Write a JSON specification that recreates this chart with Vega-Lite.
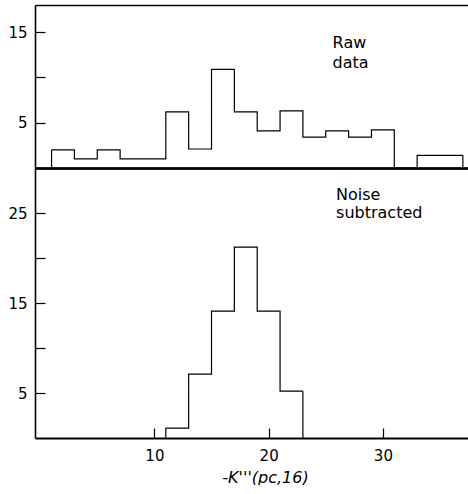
{
  "$schema": "https://vega.github.io/schema/vega-lite/v6.json",
  "background": "white",
  "padding": {"left": 5, "top": 5, "right": 0, "bottom": 0},
  "spacing": 0,
  "bounds": "flush",
  "config": {
    "view": {"stroke": null},
    "axis": {
      "domainColor": "black", "tickColor": "black", "labelColor": "black", "titleColor": "black",
      "labelFont": "DejaVu Sans", "titleFont": "DejaVu Sans", "labelFontSize": 15,
      "grid": false, "domainWidth": 1.6, "tickWidth": 1.2
    },
    "text": {"font": "DejaVu Sans"}
  },
  "datasets": {
    "raw": [
      {"i": 0, "x0": 1, "x1": 3, "count": 2.0},
      {"i": 1, "x0": 3, "x1": 5, "count": 1.0},
      {"i": 2, "x0": 5, "x1": 7, "count": 2.0},
      {"i": 3, "x0": 7, "x1": 9, "count": 1.0},
      {"i": 4, "x0": 9, "x1": 11, "count": 1.0},
      {"i": 5, "x0": 11, "x1": 13, "count": 6.2},
      {"i": 6, "x0": 13, "x1": 15, "count": 2.1},
      {"i": 7, "x0": 15, "x1": 17, "count": 10.9},
      {"i": 8, "x0": 17, "x1": 19, "count": 6.2},
      {"i": 9, "x0": 19, "x1": 21, "count": 4.1},
      {"i": 10, "x0": 21, "x1": 23, "count": 6.3},
      {"i": 11, "x0": 23, "x1": 25, "count": 3.4},
      {"i": 12, "x0": 25, "x1": 27, "count": 4.1},
      {"i": 13, "x0": 27, "x1": 29, "count": 3.4},
      {"i": 14, "x0": 29, "x1": 31, "count": 4.2},
      {"i": 15, "x0": 31, "x1": 33, "count": 0},
      {"i": 16, "x0": 33, "x1": 35, "count": 1.4},
      {"i": 17, "x0": 35, "x1": 37, "count": 1.4}
    ],
    "noise": [
      {"i": 0, "x0": 11, "x1": 13, "count": 1.1},
      {"i": 1, "x0": 13, "x1": 15, "count": 7.1},
      {"i": 2, "x0": 15, "x1": 17, "count": 14.1},
      {"i": 3, "x0": 17, "x1": 19, "count": 21.2},
      {"i": 4, "x0": 19, "x1": 21, "count": 14.1},
      {"i": 5, "x0": 21, "x1": 23, "count": 5.2}
    ]
  },
  "vconcat": [
    {
      "width": 433,
      "height": 163,
      "data": {"name": "raw"},
      "layer": [
        {
          "transform": [{"fold": ["x0", "x1"], "as": ["edge", "xv"]}],
          "mark": {"type": "line", "color": "black", "strokeWidth": 1.2},
          "encoding": {
            "x": {"field": "xv", "type": "quantitative",
                  "scale": {"domain": [-0.45, 37.45], "nice": false, "zero": false},
                  "axis": {"orient": "bottom", "ticks": false, "labels": false, "title": null, "domainWidth": 2}},
            "y": {"field": "count", "type": "quantitative",
                  "scale": {"domain": [0, 18], "nice": false},
                  "axis": {"orient": "left", "values": [5, 10, 15], "tickSize": -10, "labelPadding": 18,
                           "labelExpr": "datum.value % 10 == 5 ? datum.label : ''", "title": null,
                           "minExtent": 30, "maxExtent": 30}},
            "order": [{"field": "i", "type": "quantitative"}, {"field": "edge", "type": "nominal"}]
          }
        },
        {
          "transform": [{"filter": "datum.i == 0"}],
          "mark": {"type": "rule", "color": "black", "strokeWidth": 1.2},
          "encoding": {
            "x": {"field": "x0", "type": "quantitative",
                  "axis": {"orient": "top", "ticks": false, "labels": false, "title": null, "domainWidth": 1.6}},
            "y": {"field": "count", "type": "quantitative"},
            "y2": {"datum": 0}
          }
        },
        {
          "transform": [{"filter": "datum.i == 17"}],
          "mark": {"type": "rule", "color": "black", "strokeWidth": 1.2},
          "encoding": {
            "x": {"field": "x1", "type": "quantitative",
                  "axis": {"orient": "bottom", "ticks": false, "labels": false, "title": null, "domainWidth": 2}},
            "y": {"field": "count", "type": "quantitative"},
            "y2": {"datum": 0}
          }
        },
        {
          "data": {"values": [{"label": ["Raw", "data"]}]},
          "mark": {"type": "text", "align": "left", "baseline": "alphabetic", "fontSize": 16, "lineHeight": 20, "color": "black"},
          "encoding": {
            "x": {"datum": 25.6, "type": "quantitative",
                  "axis": {"orient": "bottom", "ticks": false, "labels": false, "title": null, "domainWidth": 2}},
            "y": {"datum": 13.2, "type": "quantitative"},
            "text": {"field": "label"}
          }
        }
      ]
    },
    {
      "width": 433,
      "height": 270,
      "data": {"name": "noise"},
      "layer": [
        {
          "transform": [{"fold": ["x0", "x1"], "as": ["edge", "xv"]}],
          "mark": {"type": "line", "color": "black", "strokeWidth": 1.2},
          "encoding": {
            "x": {"field": "xv", "type": "quantitative",
                  "scale": {"domain": [-0.45, 37.45], "nice": false, "zero": false},
                  "axis": {"orient": "bottom", "values": [10, 20, 30], "tickSize": -10, "labelPadding": 20,
                           "domainWidth": 2, "title": "-K'''(pc,16)", "titleFontSize": 16,
                           "titleFontWeight": "normal", "titleFontStyle": "italic",
                           "titleX": 230, "titleY": 44, "titleBaseline": "alphabetic"}},
            "y": {"field": "count", "type": "quantitative",
                  "scale": {"domain": [0, 30], "nice": false},
                  "axis": {"orient": "left", "values": [5, 10, 15, 20, 25], "tickSize": -10, "labelPadding": 18,
                           "labelExpr": "datum.value % 10 == 5 ? datum.label : ''", "title": null,
                           "minExtent": 30, "maxExtent": 30}},
            "order": [{"field": "i", "type": "quantitative"}, {"field": "edge", "type": "nominal"}]
          }
        },
        {
          "transform": [{"filter": "datum.i == 0"}],
          "mark": {"type": "rule", "color": "black", "strokeWidth": 1.2},
          "encoding": {
            "x": {"field": "x0", "type": "quantitative"},
            "y": {"field": "count", "type": "quantitative"},
            "y2": {"datum": 0}
          }
        },
        {
          "transform": [{"filter": "datum.i == 5"}],
          "mark": {"type": "rule", "color": "black", "strokeWidth": 1.2},
          "encoding": {
            "x": {"field": "x1", "type": "quantitative"},
            "y": {"field": "count", "type": "quantitative"},
            "y2": {"datum": 0}
          }
        },
        {
          "data": {"values": [{"label": ["Noise", "subtracted"]}]},
          "mark": {"type": "text", "align": "left", "baseline": "alphabetic", "fontSize": 16, "lineHeight": 18, "color": "black"},
          "encoding": {
            "x": {"datum": 25.9, "type": "quantitative"},
            "y": {"datum": 26.5, "type": "quantitative"},
            "text": {"field": "label"}
          }
        }
      ]
    }
  ]
}
